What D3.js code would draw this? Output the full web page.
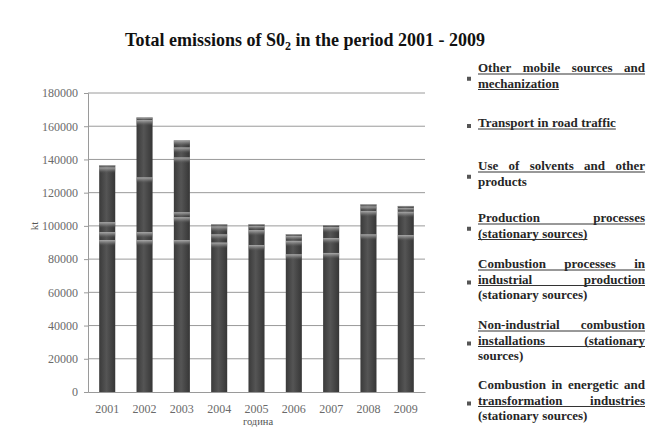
<!DOCTYPE html>
<html>
<head>
<meta charset="utf-8">
<title>Total emissions of SO2 2001 - 2009</title>
<script src="https://cdn.jsdelivr.net/npm/d3@7/dist/d3.min.js"></script>
<style>
body { margin: 0; background: #fff; }
svg { display: block; }
.tick text { font-family: "Liberation Serif", serif; font-size: 12px; fill: #6a6a6a; }
.legend text { font-family: "Liberation Serif", serif; font-size: 13px; font-weight: bold; fill: #262626; }
</style>
</head>
<body>
<svg width="652" height="433"></svg>
<script>
// data (t)
var years = ["2001", "2002", "2003", "2004", "2005", "2006", "2007", "2008", "2009"];
var energetic     = [91500, 91500, 91500, 90000, 88500, 83000, 83700, 95000, 94500];
var nonIndustrial = [4800, 4800, 13800, 5000, 9000, 8000, 9000, 14000, 14000];
var industrial    = [6000, 33000, 3000, 0, 0, 0, 0, 0, 0];
var production    = [33000, 34500, 33000, 4800, 2500, 3000, 6600, 2800, 2300];
var solvents      = [0, 0, 0, 0, 0, 0, 0, 0, 0];
var transport     = [1000, 1200, 6000, 1000, 800, 800, 1000, 1000, 1000];
var otherMobile   = [200, 300, 4200, 200, 200, 200, 200, 200, 200];
var yTicks = [0, 20000, 40000, 60000, 80000, 100000, 120000, 140000, 160000, 180000];

// legend lines, top to bottom: [text, justified, underlined]
var legendEntries = [
  [["Other mobile sources and", 1, 1], ["mechanization", 0, 1]],
  [["Transport in road traffic", 0, 1]],
  [["Use of solvents and other", 1, 1], ["products", 0, 0]],
  [["Production processes", 1, 1], ["(stationary sources)", 0, 1]],
  [["Combustion processes in", 1, 1], ["industrial production", 1, 1], ["(stationary sources)", 0, 0]],
  [["Non-industrial combustion", 1, 1], ["installations (stationary", 1, 1], ["sources)", 0, 0]],
  [["Combustion in energetic and", 1, 0], ["transformation industries", 1, 1], ["(stationary sources)", 0, 0]]
];
var legendTop = [68, 123, 166, 218, 264, 325, 385];

var keys = ["energetic", "nonIndustrial", "industrial", "production", "solvents", "transport", "otherMobile"];
var series = {energetic: energetic, nonIndustrial: nonIndustrial, industrial: industrial,
  production: production, solvents: solvents, transport: transport, otherMobile: otherMobile};
var table = years.map(function(y, i) {
  var row = {year: y};
  keys.forEach(function(k) { row[k] = series[k][i]; });
  return row;
});

var svg = d3.select("svg");
var defs = svg.append("defs");
var bg = defs.append("linearGradient").attr("id", "barGrad").attr("x1", 0).attr("x2", 1).attr("y1", 0).attr("y2", 0);
bg.append("stop").attr("offset", 0).attr("stop-color", "#3a3a3a");
bg.append("stop").attr("offset", 0.45).attr("stop-color", "#555");
bg.append("stop").attr("offset", 1).attr("stop-color", "#363636");
var hg = defs.append("linearGradient").attr("id", "hiGrad").attr("x1", 0).attr("x2", 0).attr("y1", 0).attr("y2", 1);
hg.append("stop").attr("offset", 0).attr("stop-color", "#bdbdbd").attr("stop-opacity", 0.85);
hg.append("stop").attr("offset", 0.5).attr("stop-color", "#8a8a8a").attr("stop-opacity", 0.55);
hg.append("stop").attr("offset", 1).attr("stop-color", "#555").attr("stop-opacity", 0);

var x = d3.scaleBand().domain(years).range([88, 425]).paddingInner(0.57).paddingOuter(0.3);
var y = d3.scaleLinear().domain([0, 180000]).range([392, 93]);

// title
var title = svg.append("text").attr("x", 305).attr("y", 46).attr("text-anchor", "middle")
  .style("font-family", "Liberation Serif, serif").style("font-size", "18px").style("font-weight", "bold").style("fill", "#111");
title.append("tspan").text("Total emissions of S0");
title.append("tspan").attr("dy", 4).style("font-size", "12px").text("2");
title.append("tspan").attr("dy", -4).text(" in the period 2001  - 2009");

// grid
svg.append("g").selectAll("line").data(yTicks.slice(1)).enter().append("line")
  .attr("x1", 88).attr("x2", 425).attr("y1", function(d) { return y(d); }).attr("y2", function(d) { return y(d); })
  .attr("stroke", "#9a9a9a").attr("stroke-width", 1);

var yAxis = svg.append("g").attr("transform", "translate(88,0)")
  .call(d3.axisLeft(y).tickValues(yTicks).tickFormat(d3.format("d")).tickSize(4).tickPadding(6));
yAxis.select(".domain").attr("stroke", "#9a9a9a");
yAxis.selectAll(".tick line").attr("stroke", "#9a9a9a");

var xAxis = svg.append("g").attr("transform", "translate(0,392)")
  .call(d3.axisBottom(x).tickSize(0).tickPadding(12));
xAxis.select(".domain").attr("stroke", "#9a9a9a");
xAxis.selectAll(".tick text").style("font-size", "12px");

svg.append("text").attr("transform", "translate(38,226) rotate(-90)").attr("text-anchor", "middle")
  .style("font-family", "Liberation Serif, serif").style("font-size", "11px").style("fill", "#555").text("kt");
svg.append("text").attr("x", 258).attr("y", 425).attr("text-anchor", "middle")
  .style("font-family", "Liberation Serif, serif").style("font-size", "10.5px").style("fill", "#555").text("година");

// bars
var stacked = d3.stack().keys(keys)(table);
var layers = svg.append("g").selectAll("g").data(stacked).enter().append("g");
var seg = layers.selectAll("g").data(function(d) { return d.filter(function(s) { return s[1] > s[0]; }); })
  .enter().append("g");
seg.append("rect")
  .attr("x", function(d) { return x(d.data.year); }).attr("width", x.bandwidth())
  .attr("y", function(d) { return y(d[1]); }).attr("height", function(d) { return y(d[0]) - y(d[1]); })
  .attr("fill", "url(#barGrad)");
seg.append("rect")
  .attr("x", function(d) { return x(d.data.year); }).attr("width", x.bandwidth())
  .attr("y", function(d) { return y(d[1]); })
  .attr("height", function(d) { return Math.min(6, Math.max(1, y(d[0]) - y(d[1]))); })
  .attr("fill", "url(#hiGrad)");

// legend
var lg = svg.append("g").attr("class", "legend");
var lx = 478, lw = 167, lineH = 15.5;
legendEntries.forEach(function(lines, i) {
  var top = legendTop[i];
  var midY = top + (lines.length - 1) * lineH / 2;
  lg.append("rect").attr("x", 467).attr("y", midY + 1).attr("width", 4).attr("height", 4).attr("fill", "#555");
  lines.forEach(function(ln, j) {
    var by = top + j * lineH + 4;
    var words = ln[0].split(" ");
    var wEl = words.map(function(w) { return lg.append("text").attr("x", lx).attr("y", by).text(w); });
    var widths = wEl.map(function(t) { return t.node().getComputedTextLength(); });
    var space = 3.5;
    if (ln[1] && words.length > 1) space = (lw - d3.sum(widths)) / (words.length - 1);
    var cx = lx;
    wEl.forEach(function(t, k) { t.attr("x", cx); cx += widths[k] + space; });
    var endX = ln[1] ? lx + lw : cx - space;
    if (ln[2]) lg.append("line").attr("x1", lx).attr("x2", endX).attr("y1", by + 2).attr("y2", by + 2)
      .attr("stroke", "#333").attr("stroke-width", 1);
  });
});
</script>
</body>
</html>
